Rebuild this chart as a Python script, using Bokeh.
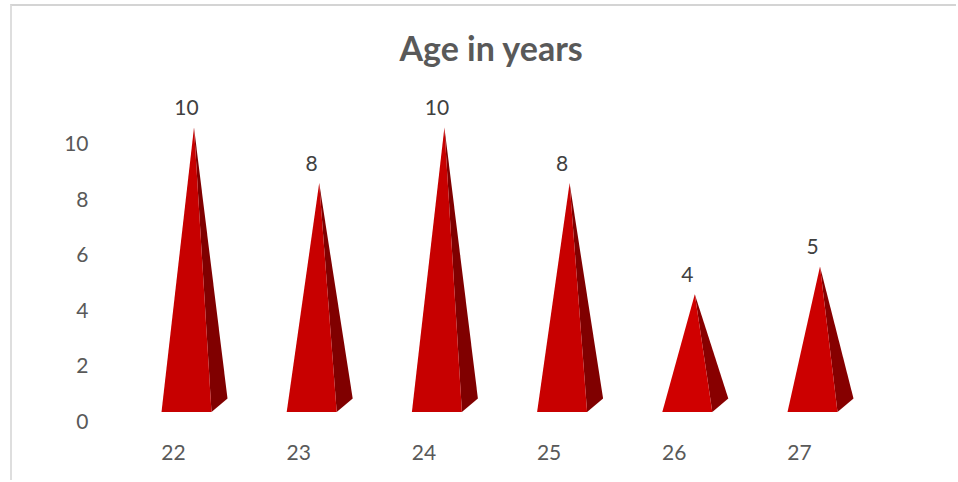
from bokeh.embed import file_html
from bokeh.models import ColumnDataSource, FixedTicker, Range1d, Title
from bokeh.plotting import figure
from bokeh.resources import INLINE
from bokeh.core.properties import value

# Chart data
ages = ["22", "23", "24", "25", "26", "27"]
counts = [10, 8, 10, 8, 4, 5]
front_colors = ["#C70000", "#C80000", "#C70000", "#C80000", "#D00000", "#CC0000"]
side_colors = ["#800000", "#800000", "#800000", "#800000", "#880000", "#860000"]
y_ticks = [0, 2, 4, 6, 8, 10]

# Pyramid shape: offsets from each category tick, in data units
px_x = 125.2
px_y = 27.8
left_dx, right_dx, back_dx, apex_dx = -12 / px_x, 38 / px_x, 54 / px_x, 20.5 / px_x
label_dx = 13 / px_x
front_lift, back_lift, apex_lift, label_lift = 9.5 / px_y, 23 / px_y, 16 / px_y, 36 / px_y

positions = list(range(len(ages)))
front_xs = [[i + left_dx, i + right_dx, i + apex_dx] for i in positions]
front_ys = [[front_lift, front_lift, c + apex_lift] for c in counts]
side_xs = [[i + right_dx, i + back_dx, i + apex_dx] for i in positions]
side_ys = [[front_lift, back_lift, c + apex_lift] for c in counts]

p = figure(
    width=946, height=476, margin=(4, 0, 0, 10),
    x_range=Range1d((96 - 174) / px_x, (888 - 174) / px_x),
    y_range=Range1d(-(432 - 421) / px_y, (421 - 70) / px_y),
    output_backend="svg", toolbar_location=None, tools="",
    min_border_left=83, min_border_right=71, min_border_top=64, min_border_bottom=50,
    outline_line_color=None, background_fill_color="white", border_fill_color="white",
    styles={"border-left": "2px solid #DEDEDE", "border-top": "2px solid #D4D4D4"},
)
p.grid.visible = False

title = Title(text="Age in years", align="center", text_font="Lato", text_font_size="34px",
              text_font_style="bold", text_color="#595959", standoff=5)
p.add_layout(title, "above")

p.patches("xs", "ys", source=ColumnDataSource(dict(xs=side_xs, ys=side_ys, color=side_colors)),
          fill_color="color", line_color=None)
p.patches("xs", "ys", source=ColumnDataSource(dict(xs=front_xs, ys=front_ys, color=front_colors)),
          fill_color="color", line_color=None)

labels = ColumnDataSource(dict(
    x=[i + label_dx for i in positions],
    y=[c + label_lift for c in counts],
    text=[str(c) for c in counts],
))
p.text("x", "y", "text", source=labels, text_align="center", text_baseline="middle",
       text_font=value("Lato"), text_font_size="21px", text_color="#404040")

p.xaxis.ticker = FixedTicker(ticks=positions)
p.xaxis.major_label_overrides = {i: a for i, a in zip(positions, ages)}
p.yaxis.ticker = FixedTicker(ticks=y_ticks)
for ax in (p.xaxis, p.yaxis):
    ax.axis_line_color = None
    ax.major_tick_line_color = None
    ax.minor_tick_line_color = None
    ax.major_label_text_font = "Lato"
    ax.major_label_text_font_size = "21px"
    ax.major_label_text_color = "#595959"
p.xaxis.major_label_standoff = 6
p.yaxis.major_label_standoff = 1

open("out.html", "w").write(file_html(p, INLINE))
